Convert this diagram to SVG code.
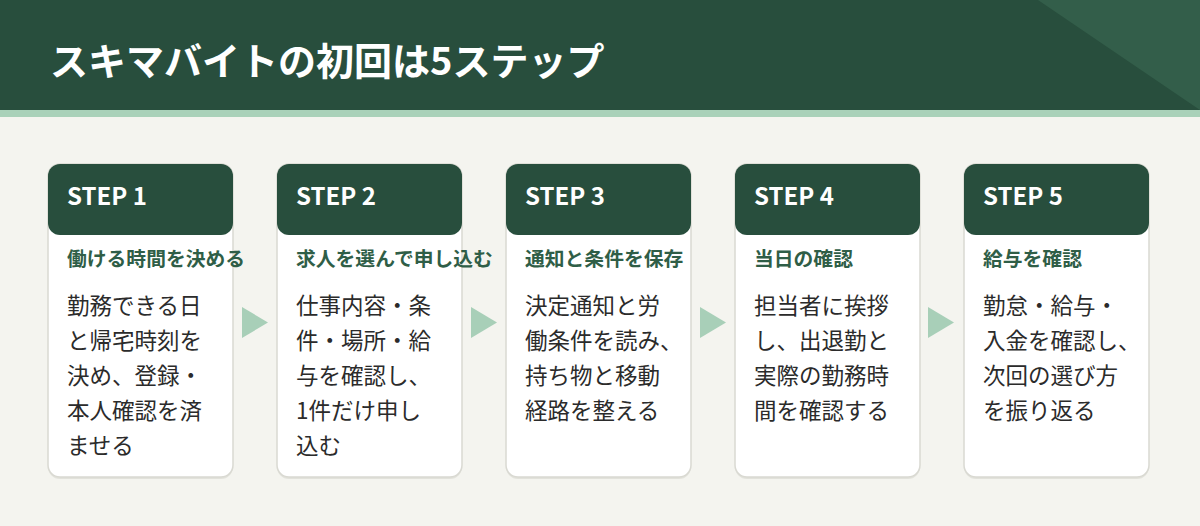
<svg xmlns="http://www.w3.org/2000/svg" width="1200" height="526" viewBox="0 0 1200 526">
<style>
.jp{font-family:"Noto Sans CJK JP","Noto Sans",sans-serif}
.title{font-size:38px;font-weight:700;fill:#ffffff}
.step{font-size:24px;font-weight:700;fill:#ffffff}
.sub{font-size:19.8px;font-weight:700;fill:#2F5E47}
.body{font-size:22.5px;font-weight:400;fill:#2B2B2B}
.card{fill:#ffffff;stroke:#D9D9D2;stroke-width:1.5}
.shadow{fill:#E2E2DB}
.head{fill:#284E3D}
.arrow{fill:#A8CFB8}
</style>
<rect x="0" y="0" width="1200" height="526" fill="#F4F4EF"/>
<g id="header">
<rect x="0" y="0" width="1200" height="110" fill="#284E3D"/>
<polygon points="1038,0 1200,0 1200,110" fill="#335E4A"/>
<rect x="0" y="110" width="1200" height="7" fill="#A9D1B9"/>
<text class="jp title" x="50" y="75">スキマバイトの初回は5ステップ</text>
</g>
<g id="connectors">
<polygon class="arrow" points="242,307 268,322.5 242,338"/>
<polygon class="arrow" points="471,307 497,322.5 471,338"/>
<polygon class="arrow" points="700,307 726,322.5 700,338"/>
<polygon class="arrow" points="928,307 954,322.5 928,338"/>
</g>
<g id="step1">
<rect class="shadow" x="48" y="166" width="185" height="313" rx="12"/>
<rect class="card" x="48" y="164" width="185" height="313" rx="12"/>
<rect class="head" x="48" y="164" width="185" height="71" rx="12"/>
<text class="jp step" x="67" y="205">STEP 1</text>
<text class="jp sub" x="67" y="266">働ける時間を決める</text>
<text class="jp body" x="67"><tspan x="67" y="314">勤務できる日</tspan><tspan x="67" y="349">と帰宅時刻を</tspan><tspan x="67" y="384">決め、登録・</tspan><tspan x="67" y="419">本人確認を済</tspan><tspan x="67" y="454">ませる</tspan></text>
</g>
<g id="step2">
<rect class="shadow" x="277" y="166" width="185" height="313" rx="12"/>
<rect class="card" x="277" y="164" width="185" height="313" rx="12"/>
<rect class="head" x="277" y="164" width="185" height="71" rx="12"/>
<text class="jp step" x="296" y="205">STEP 2</text>
<text class="jp sub" x="296" y="266">求人を選んで申し込む</text>
<text class="jp body"><tspan x="296" y="314">仕事内容・条</tspan><tspan x="296" y="349">件・場所・給</tspan><tspan x="296" y="384">与を確認し、</tspan><tspan x="296" y="419">1件だけ申し</tspan><tspan x="296" y="454">込む</tspan></text>
</g>
<g id="step3">
<rect class="shadow" x="506" y="166" width="185" height="313" rx="12"/>
<rect class="card" x="506" y="164" width="185" height="313" rx="12"/>
<rect class="head" x="506" y="164" width="185" height="71" rx="12"/>
<text class="jp step" x="525" y="205">STEP 3</text>
<text class="jp sub" x="525" y="266">通知と条件を保存</text>
<text class="jp body"><tspan x="525" y="314">決定通知と労</tspan><tspan x="525" y="349">働条件を読み、</tspan><tspan x="525" y="384">持ち物と移動</tspan><tspan x="525" y="419">経路を整える</tspan></text>
</g>
<g id="step4">
<rect class="shadow" x="735" y="166" width="185" height="313" rx="12"/>
<rect class="card" x="735" y="164" width="185" height="313" rx="12"/>
<rect class="head" x="735" y="164" width="185" height="71" rx="12"/>
<text class="jp step" x="754" y="205">STEP 4</text>
<text class="jp sub" x="754" y="266">当日の確認</text>
<text class="jp body"><tspan x="754" y="314">担当者に挨拶</tspan><tspan x="754" y="349">し、出退勤と</tspan><tspan x="754" y="384">実際の勤務時</tspan><tspan x="754" y="419">間を確認する</tspan></text>
</g>
<g id="step5">
<rect class="shadow" x="964" y="166" width="185" height="313" rx="12"/>
<rect class="card" x="964" y="164" width="185" height="313" rx="12"/>
<rect class="head" x="964" y="164" width="185" height="71" rx="12"/>
<text class="jp step" x="983" y="205">STEP 5</text>
<text class="jp sub" x="983" y="266">給与を確認</text>
<text class="jp body"><tspan x="983" y="314">勤怠・給与・</tspan><tspan x="983" y="349">入金を確認し、</tspan><tspan x="983" y="384">次回の選び方</tspan><tspan x="983" y="419">を振り返る</tspan></text>
</g>
</svg>
